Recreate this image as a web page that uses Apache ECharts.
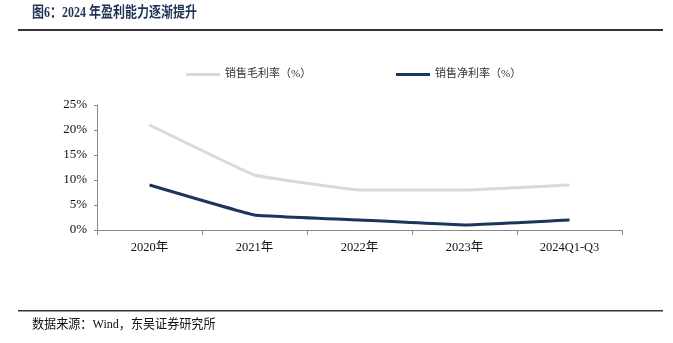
<!DOCTYPE html>
<html><head><meta charset="utf-8">
<script src="https://cdn.jsdelivr.net/npm/echarts@6/dist/echarts.min.js"></script>
<style>html,body{margin:0;padding:0;background:#fff}#c{width:673px;height:343px}</style>
</head><body><div id="c"></div>
<script>
const categories = ['2020年', '2021年', '2022年', '2023年', '2024Q1-Q3'];
const grossMargin = [21, 11, 8, 8, 9];
const netMargin = [9, 3, 2, 1, 2];
const yTicks = [0, 5, 10, 15, 20, 25];

const serif = '"Liberation Serif","Times New Roman","Noto Sans CJK SC",serif';
const chart = echarts.init(document.getElementById('c'));
chart.setOption({
  animation: false,
  backgroundColor: '#fff',
  graphic: [
    {type: 'text', x: 32, y: 6, scaleX: 0.8, style: {text: '图6：2024 年盈利能力逐渐提升', font: 'bold 15px ' + serif, fill: '#1f3355'}},
    {type: 'rect', shape: {x: 18, y: 29, width: 645, height: 2}, style: {fill: '#333'}},
    {type: 'rect', shape: {x: 18, y: 310, width: 645, height: 1.5}, style: {fill: '#333'}},
    {type: 'text', x: 32, y: 318, scaleX: 0.93, style: {text: '数据来源：Wind，东吴证券研究所', font: '13px ' + serif, fill: '#111'}}
  ],
  legend: [
    {data: ['销售毛利率（%）'], left: 181, top: 64, itemWidth: 34, itemHeight: 3, icon: 'rect',
     textStyle: {fontFamily: serif, fontSize: 11, color: '#333'}},
    {data: ['销售净利率（%）'], left: 391, top: 64, itemWidth: 34, itemHeight: 3, icon: 'rect',
     textStyle: {fontFamily: serif, fontSize: 11, color: '#333'}}
  ],
  grid: {left: 97, right: 51, top: 105, bottom: 113},
  xAxis: {
    type: 'category', data: categories,
    axisLine: {lineStyle: {color: '#888'}},
    axisTick: {show: true, length: 5, lineStyle: {color: '#888'}},
    axisLabel: {fontFamily: serif, fontSize: 12.5, color: '#111', margin: 11}
  },
  yAxis: {
    type: 'value', min: 0, max: 25, interval: 5,
    axisLine: {show: true, lineStyle: {color: '#888'}},
    axisTick: {show: true, length: 3, lineStyle: {color: '#888'}},
    splitLine: {show: false},
    axisLabel: {fontFamily: serif, fontSize: 13, color: '#111', margin: 10,
      formatter: v => yTicks.includes(v) ? v + '%' : ''}
  },
  series: [
    {name: '销售毛利率（%）', type: 'line', data: grossMargin, smooth: 0.07, symbol: 'none',
     lineStyle: {width: 3, color: '#d9d9d9'}, itemStyle: {color: '#d9d9d9'}},
    {name: '销售净利率（%）', type: 'line', data: netMargin, smooth: 0.07, symbol: 'none',
     lineStyle: {width: 3, color: '#1b365d'}, itemStyle: {color: '#1b365d'}}
  ]
});
</script></body></html>
